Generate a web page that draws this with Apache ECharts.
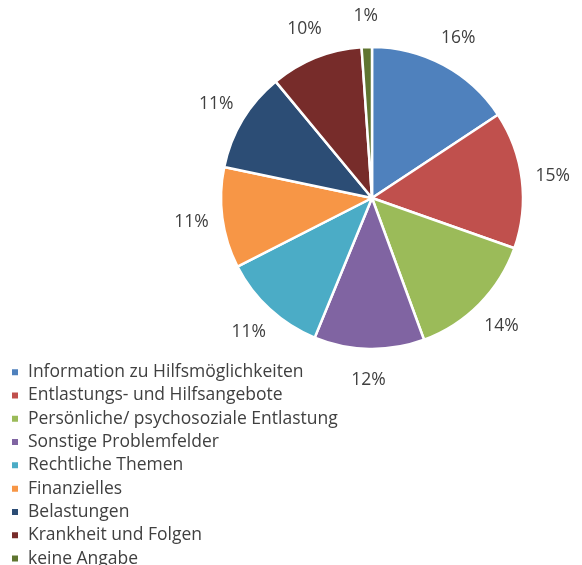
<!DOCTYPE html>
<html>
<head>
<meta charset="utf-8">
<script src="https://cdn.jsdelivr.net/npm/echarts@6/dist/echarts.min.js"></script>
<style>
  html, body { margin: 0; padding: 0; background: #fff; }
  #chart { width: 582px; height: 565px; }
</style>
</head>
<body>
<div id="chart"></div>
<script>
  // Themen der Beratung (Anteile in %)
  const categories = [
    'Information zu Hilfsmöglichkeiten',
    'Entlastungs- und Hilfsangebote',
    'Persönliche/ psychosoziale Entlastung',
    'Sonstige Problemfelder',
    'Rechtliche Themen',
    'Finanzielles',
    'Belastungen',
    'Krankheit und Folgen',
    'keine Angabe'
  ];
  const shares = [15.7, 14.7, 14.0, 11.8, 11.3, 10.8, 10.7, 9.9, 1.1];
  const colors = ['#4F81BD', '#C0504D', '#9BBB59', '#8064A2', '#4BACC6',
                  '#F79646', '#2C4D75', '#772C2A', '#5F7530'];

  const pieData = categories.map((name, i) => ({
    name: name,
    value: shares[i],
    itemStyle: { color: colors[i] }
  }));

  const chart = echarts.init(document.getElementById('chart'));
  chart.setOption({
    animation: false,
    textStyle: { fontFamily: 'Open Sans' },
    legend: {
      orient: 'vertical',
      left: 5,
      top: 357,
      height: 260,
      icon: 'rect',
      itemWidth: 8,
      itemHeight: 8,
      itemGap: 3,
      selectedMode: false,
      data: categories,
      textStyle: { fontSize: 17.5, color: '#404040', lineHeight: 20.3, padding: [0, 0, 0, 4] }
    },
    series: [
      {
        type: 'pie',
        center: [372, 198],
        radius: [0, 151],
        startAngle: 90,
        clockwise: true,
        data: pieData,
        itemStyle: { borderColor: '#fff', borderWidth: 2.5 },
        label: { show: false },
        labelLine: { show: false },
        emphasis: { disabled: true }
      },
      {
        // unsichtbarer Ring nur fuer die Prozent-Beschriftungen
        type: 'pie',
        center: [372, 198],
        radius: [166, 192],
        startAngle: 90,
        clockwise: true,
        silent: true,
        legendHoverLink: false,
        data: categories.map((name, i) => ({ name: name, value: shares[i] })),
        itemStyle: { color: 'transparent' },
        label: {
          show: true,
          position: 'inside',
          formatter: p => Math.round(p.value) + '%',
          fontSize: 17.5,
          color: '#404040'
        },
        labelLine: { show: false },
        emphasis: { disabled: true }
      }
    ]
  });
</script>
</body>
</html>
